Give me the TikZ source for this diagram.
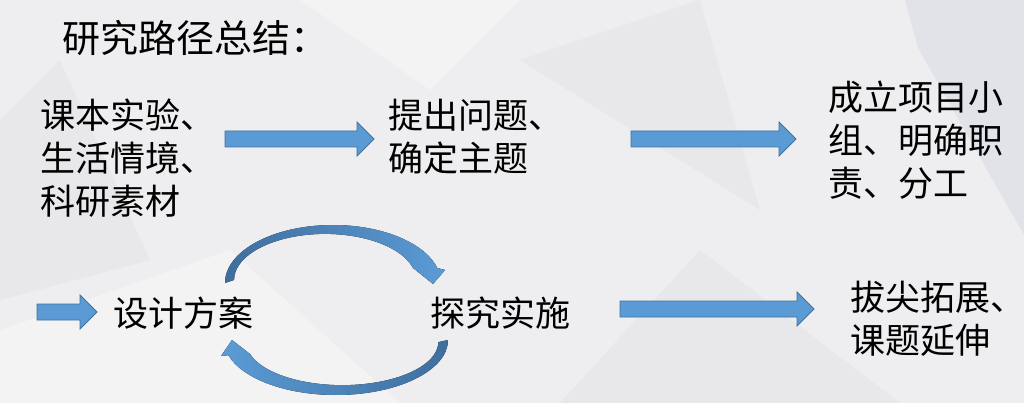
\documentclass[tikz,border=0pt]{standalone}
\usepackage{fontspec}
\newfontfamily\cjk{Noto Sans CJK SC}
\usetikzlibrary{calc}
\definecolor{bgbase}{HTML}{EEEEF0}
\definecolor{bgdark}{HTML}{E2E3E8}
\definecolor{bgmid}{HTML}{E8E8EB}
\definecolor{bgpale}{HTML}{F3F3F4}
\definecolor{arrfill}{HTML}{5B9BD5}
\definecolor{arrline}{HTML}{41719C}
\definecolor{arrdeep}{HTML}{3F6E9E}

% horizontal block arrow from #1 to #2
\newcommand{\blockarr}[2]{%
  \draw[blockarrow] let \p1=(#1), \p2=(#2) in
    (\x1,\y1+8pt) -- (\x2-17pt,\y1+8pt) -- (\x2-17pt,\y1+17pt) -- (\x2,\y1)
    -- (\x2-17pt,\y1-17pt) -- (\x2-17pt,\y1-8pt) -- (\x1,\y1-8pt) -- cycle;}

\begin{document}
\begin{tikzpicture}[x=1pt,y=-1pt,
    blockarrow/.style={fill=arrfill,draw=arrline,line width=0.8pt},
    label/.style={anchor=west,inner sep=0pt,align=left,font=\cjk\fontsize{35}{43}\selectfont},
    title/.style={anchor=west,inner sep=0pt,font=\cjk\fontsize{38}{44}\selectfont}]
    % background
    \fill[bgbase] (0,0) rectangle (1024,403);
    \fill[bgdark] (905,0) -- (1024,0) -- (1024,235) -- (918,48) -- cycle;
    \fill[bgmid] (0,120) -- (60,60) -- (150,260) -- (0,300) -- cycle;
    \fill[bgpale] (0,330) -- (230,250) -- (400,403) -- (0,403) -- cycle;
    \fill[bgmid] (520,60) -- (700,0) -- (760,210) -- cycle;
    \fill[bgmid] (560,403) -- (700,250) -- (900,403) -- cycle;
    \fill[bgpale] (300,0) -- (520,0) -- (430,90) -- cycle;
    \useasboundingbox (0,0) rectangle (1024,403);

    % texts
    \node[title] (ttl) at (62,38) {研究路径总结：};
    \node[label] (src) at (40,158) {课本实验、\\生活情境、\\科研素材};
    \node[label] (ask) at (388,137) {提出问题、\\确定主题};
    \node[label] (grp) at (828,140) {成立项目小\\组、明确职\\责、分工};
    \node[label] (plan) at (113,313) {设计方案};
    \node[label] (act) at (430,313) {探究实施};
    \node[label] (ext) at (850,319) {拔尖拓展、\\课题延伸};

    % straight arrows
    \coordinate (a1s) at (225,139); \coordinate (a1e) at (374,139);
    \coordinate (a2s) at (631,139); \coordinate (a2e) at (796,139);
    \coordinate (a3s) at (37,312);  \coordinate (a3e) at (97,312);
    \coordinate (a4s) at (620,309); \coordinate (a4e) at (814,309);
    \blockarr{a1s}{a1e}
    \blockarr{a2s}{a2e}
    \blockarr{a3s}{a3e}
    \blockarr{a4s}{a4e}

    % loop between plan and act
    \fill[left color=arrdeep,right color=arrfill]
      (225,283) arc[start angle=180,end angle=345,x radius=108,y radius=58]
      -- (445,270) -- (433,284) -- (413,268)
      arc[start angle=345,end angle=180,x radius=91,y radius=46] -- cycle;
    \fill[left color=arrfill,right color=arrdeep]
      (448,340) arc[start angle=0,end angle=164,x radius=112,y radius=55]
      -- (221,356) -- (232,340) -- (250,354)
      arc[start angle=164,end angle=0,x radius=96,y radius=43] -- cycle;
\end{tikzpicture}
\end{document}
